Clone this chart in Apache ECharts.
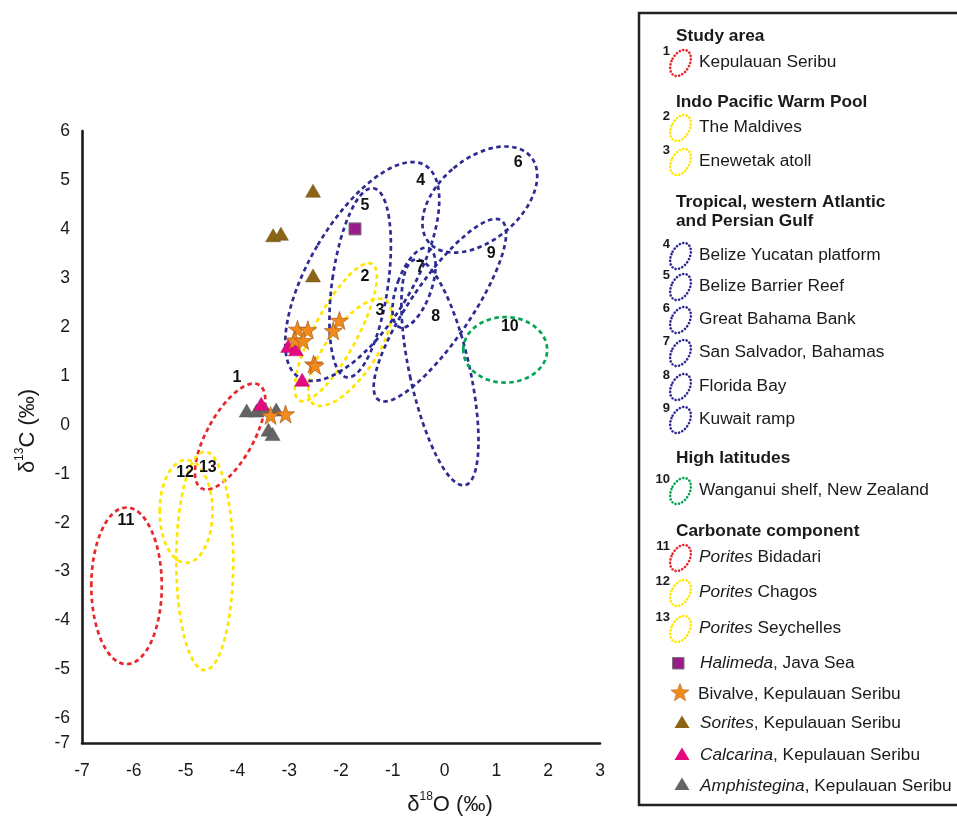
<!DOCTYPE html>
<html>
<head>
<meta charset="utf-8">
<title>d18O vs d13C</title>
<script src="https://cdn.jsdelivr.net/npm/echarts@6/dist/echarts.min.js"></script>
<style>
  html, body { margin: 0; padding: 0; background: #fff; }
  #chart { width: 957px; height: 818px; }
</style>
</head>
<body>
<div id="chart"></div>
<script>
// ---- fields (ellipses), in per-mil ----
var regionNames = ['Kepulauan Seribu', 'The Maldives', 'Enewetak atoll', 'Belize Yucatan platform',
  'Belize Barrier Reef', 'Great Bahama Bank', 'San Salvador, Bahamas', 'Florida Bay', 'Kuwait ramp',
  'Wanganui shelf, New Zealand', 'Porites Bidadari', 'Porites Chagos', 'Porites Seychelles'];
var regionGroup = ['study', 'ipwp', 'ipwp', 'atl', 'atl', 'atl', 'atl', 'atl', 'atl', 'high', 'study', 'ipwp', 'ipwp'];
var regionO = [-4.14, -2.10, -1.83, -1.59, -1.63, 0.68, -0.59, -0.09, -0.09, 1.17, -6.14, -4.99, -4.63];
var regionC = [-0.24, 1.89, 1.48, 3.13, 2.90, 4.60, 2.80, 1.07, 2.34, 1.53, -3.29, -1.77, -2.78];
var regionHalfLong = [1.21, 1.58, 1.29, 2.52, 1.95, 1.36, 0.86, 2.36, 2.22, 0.67, 1.60, 1.05, 2.23];
var regionHalfShort = [0.45, 0.42, 0.48, 1.00, 0.54, 0.79, 0.33, 0.58, 0.58, 0.81, 0.68, 0.51, 0.55];
var regionTilt = [29, 28, 35, 30.6, 8, 50, 20, -12.5, 34.4, 0, 0, 0, 0];
// number tags written next to each field
var tagO = [-4.01, -1.54, -1.25, -0.46, -1.54, 1.42, -0.47, -0.17, 0.90, 1.26, -6.15, -5.01, -4.57];
var tagC = [0.97, 3.02, 2.34, 4.99, 4.48, 5.36, 3.21, 2.20, 3.49, 2.00, -1.95, -0.98, -0.88];

// ---- samples [d18O, d13C] ----
var halimeda = [[-1.73, 4.00]];
var bivalve = [[-2.84, 1.95], [-2.64, 1.94], [-2.89, 1.73], [-2.73, 1.72], [-2.03, 2.13],
  [-2.15, 1.92], [-2.53, 1.24], [-2.50, 1.21], [-3.36, 0.19], [-3.07, 0.22]];
var sorites = [[-2.54, 4.78], [-3.31, 3.87], [-3.16, 3.90], [-2.54, 3.05]];
var calcarina = [[-3.02, 1.61], [-2.87, 1.54], [-2.75, 0.92], [-3.54, 0.43]];
var amphistegina = [[-3.82, 0.29], [-3.63, 0.29], [-3.47, 0.33], [-3.25, 0.31], [-3.40, -0.10], [-3.32, -0.19]];

var xTicks = { min: -7, max: 3, step: 1 };
var yTicks = { min: -6.5, max: 6, step: 0.5 };

var FONT = 'Arial, "Liberation Sans", Helvetica, sans-serif';
var groupColor = { study: '#e8262b', ipwp: '#ffe600', atl: '#2e2b92', high: '#00a651' };
var starPath = 'path://M50,0 L61.8,35.3 L98.9,35.3 L68.8,57.1 L80.3,92.7 L50,70.9 L19.7,92.7 L31.2,57.1 L1.1,35.3 L38.2,35.3 Z';

var chart = echarts.init(document.getElementById('chart'));

var ellipseData = regionO.map(function (o, i) {
  return [o, regionC[i], regionHalfLong[i], regionHalfShort[i], regionTilt[i], i];
});
var tagData = tagO.map(function (o, i) { return [o, tagC[i], String(i + 1)]; });

// ---- legend box (drawn) ----
var LS = 17.3;
var graphics = [{
  type: 'rect', silent: true,
  shape: { x: 639, y: 13, width: 340, height: 792 },
  style: { fill: 'none', stroke: '#222', lineWidth: 2.5 }
}];
function txt(x, y, text, opts) {
  opts = opts || {};
  graphics.push({
    type: 'text', x: x, y: y, silent: true,
    style: {
      text: text, fill: opts.color || '#1a1a1a',
      fontSize: opts.size || LS, fontWeight: opts.weight || 'normal', fontFamily: FONT,
      align: opts.align || 'left', textAlign: opts.align || 'left',
      verticalAlign: 'middle', textVerticalAlign: 'middle',
      rich: { i: { fontStyle: 'italic', fontSize: opts.size || LS, fontFamily: FONT, fill: '#1a1a1a' } }
    }
  });
}
[['Study area', 36], ['Indo Pacific Warm Pool', 102], ['Tropical, western Atlantic', 202],
 ['and Persian Gulf', 221], ['High latitudes', 458], ['Carbonate component', 531]].forEach(function (h) {
  txt(676, h[1], h[0], { weight: 'bold' });
});
var rowY = [62, 127, 161, 255, 286, 319, 352, 386, 419, 490, 557, 592, 628];
regionNames.forEach(function (name, i) {
  var y = rowY[i];
  graphics.push({
    type: 'ellipse', x: 680.5, y: y + 1, rotation: -0.5, silent: true,
    shape: { cx: 0, cy: 0, rx: 9, ry: 14 },
    style: { fill: 'none', stroke: groupColor[regionGroup[i]], lineWidth: 2.6, lineDash: [0.1, 3.4], lineCap: 'round' }
  });
  txt(670, y - 11, String(i + 1), { weight: 'bold', size: 13, align: 'right' });
  txt(699, y, name.replace('Porites', '{i|Porites}'));
});
function starPts(cx, cy, R, r) {
  var pts = [];
  for (var k = 0; k < 10; k++) {
    var a = -Math.PI / 2 + k * Math.PI / 5, rr = k % 2 ? r : R;
    pts.push([cx + rr * Math.cos(a), cy + rr * Math.sin(a)]);
  }
  return pts;
}
function triPts(cx, cy) { return [[cx, cy - 6.5], [cx + 7.5, cy + 6], [cx - 7.5, cy + 6]]; }
graphics.push({ type: 'rect', silent: true, shape: { x: 672.5, y: 657.5, width: 11.5, height: 11.5 },
  style: { fill: '#9b1b8a', stroke: '#777', lineWidth: 1 } });
txt(700, 663, '{i|Halimeda}, Java Sea');
graphics.push({ type: 'polygon', silent: true, shape: { points: starPts(680, 693, 9.5, 4) },
  style: { fill: '#f28a1c', stroke: '#b4641e', lineWidth: 0.6 } });
txt(698, 694, 'Bivalve, Kepulauan Seribu');
graphics.push({ type: 'polygon', silent: true, shape: { points: triPts(682, 722) }, style: { fill: '#8c6418' } });
txt(700, 723, '{i|Sorites}, Kepulauan Seribu');
graphics.push({ type: 'polygon', silent: true, shape: { points: triPts(682, 754) }, style: { fill: '#e5097f' } });
txt(700, 755, '{i|Calcarina}, Kepulauan Seribu');
graphics.push({ type: 'polygon', silent: true, shape: { points: triPts(682, 784) }, style: { fill: '#646464' } });
txt(700, 786, '{i|Amphistegina}, Kepulauan Seribu');

var axisLine = { show: true, onZero: false, lineStyle: { color: '#1a1a1a', width: 2.6 } };
var nameRich = {
  sup: { fontSize: 12, fontFamily: FONT, color: '#1a1a1a', verticalAlign: 'top', lineHeight: 14 },
  b: { fontSize: 22, fontFamily: FONT, color: '#1a1a1a', lineHeight: 28 }
};

var option = {
  animation: false,
  backgroundColor: '#fff',
  grid: { left: 82, right: 357, top: 131, bottom: 75, outerBoundsMode: 'none' },
  xAxis: {
    type: 'value', min: xTicks.min, max: xTicks.max, interval: xTicks.step,
    axisLine: axisLine, axisTick: { show: false }, splitLine: { show: false },
    axisLabel: { color: '#1a1a1a', fontSize: 17.5, fontFamily: FONT, margin: 19 },
    name: '{b|δ}{sup|18}{b|O (‰)}', nameLocation: 'middle', nameGap: 48,
    nameTextStyle: { rich: nameRich, padding: [0, 0, 0, 218] }
  },
  yAxis: {
    type: 'value', min: yTicks.min, max: yTicks.max, interval: yTicks.step,
    axisLine: axisLine, axisTick: { show: false }, splitLine: { show: false },
    axisLabel: {
      color: '#1a1a1a', fontSize: 17.5, fontFamily: FONT, margin: 12,
      formatter: function (v) {
        if (v === yTicks.min) return '-7';
        return Number.isInteger(v) ? String(v) : '';
      }
    },
    name: '{b|δ}{sup|13}{b|C (‰)}', nameLocation: 'middle', nameGap: 40, nameRotate: 90,
    nameTextStyle: { rich: nameRich, padding: [0, 0, 0, 12] }
  },
  graphic: graphics,
  series: [
    {
      type: 'custom', name: 'fields', silent: true, clip: false,
      data: ellipseData, encode: { x: 0, y: 1 },
      renderItem: function (params, api) {
        var c = api.coord([api.value(0), api.value(1)]);
        var ry = api.size([0, api.value(2)])[1];
        var rx = api.size([api.value(3), 0])[0];
        var idx = api.value(5);
        return {
          type: 'ellipse', x: c[0], y: c[1],
          rotation: -api.value(4) * Math.PI / 180,
          shape: { cx: 0, cy: 0, rx: rx, ry: ry },
          style: { fill: 'none', stroke: groupColor[regionGroup[idx]], lineWidth: 2.7, lineDash: [4.5, 3.5] }
        };
      }
    },
    {
      type: 'scatter', name: 'Amphistegina', data: amphistegina, symbol: 'triangle', symbolSize: [15, 13],
      itemStyle: { color: '#646464', borderColor: '#555', borderWidth: 0.5, opacity: 1 }
    },
    {
      type: 'scatter', name: 'Calcarina', data: calcarina, symbol: 'triangle', symbolSize: [15, 13],
      itemStyle: { color: '#e5097f', borderColor: '#b0106a', borderWidth: 0.5, opacity: 1 }
    },
    {
      type: 'scatter', name: 'Sorites', data: sorites, symbol: 'triangle', symbolSize: [15, 13],
      itemStyle: { color: '#8c6418', borderColor: '#6e5014', borderWidth: 0.5, opacity: 1 }
    },
    {
      type: 'scatter', name: 'Bivalve', data: bivalve, symbol: starPath, symbolSize: 18,
      itemStyle: { color: '#f28a1c', borderColor: '#a85a1a', borderWidth: 0.7, opacity: 1 }
    },
    {
      type: 'scatter', name: 'Halimeda', data: halimeda, symbol: 'rect', symbolSize: 12,
      itemStyle: { color: '#9b1b8a', borderColor: '#777', borderWidth: 1, opacity: 1 }
    },
    {
      type: 'scatter', name: 'tags', data: tagData, symbolSize: 1, silent: true,
      itemStyle: { color: 'rgba(0,0,0,0)', opacity: 1 },
      label: {
        show: true, position: 'inside', color: '#111', opacity: 1, textBorderWidth: 0,
        fontSize: 16, fontWeight: 'bold', fontFamily: FONT,
        formatter: function (p) { return p.value[2]; }
      }
    }
  ]
};
chart.setOption(option);
</script>
</body>
</html>
